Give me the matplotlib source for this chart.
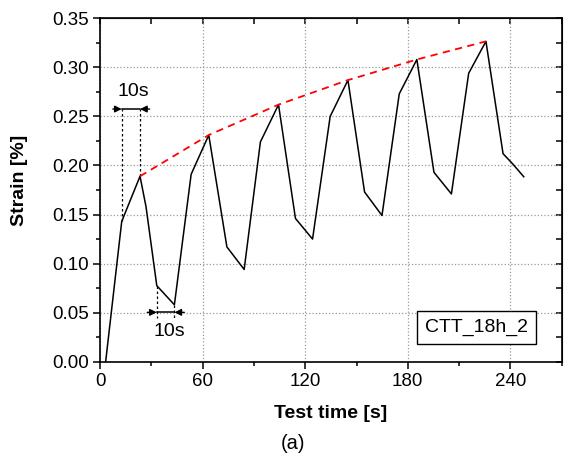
import matplotlib
matplotlib.use('Agg')
import matplotlib.pyplot as plt
from matplotlib.ticker import MultipleLocator

# measured strain curve
timeS = [3.3, 12.7, 23.4, 26.9, 33.2, 43.5, 53.3, 63.6, 74.2, 84.3, 93.8,
         104.4, 114.3, 124.3, 134.6, 145.0, 154.7, 164.9, 175.0, 185.3,
         195.3, 205.5, 215.6, 225.7, 235.7, 241.4, 247.8]
strain = [0.0, 0.143, 0.189, 0.158, 0.0775, 0.058, 0.191, 0.231, 0.117,
          0.094, 0.224, 0.262, 0.146, 0.125, 0.250, 0.287, 0.173, 0.149,
          0.273, 0.308, 0.193, 0.171, 0.294, 0.3265, 0.212, 0.2015, 0.1885]

# envelope through the peaks
peakTime = [23.4, 63.6, 104.4, 145.0, 185.3, 225.7]
peakStrain = [0.189, 0.231, 0.262, 0.287, 0.308, 0.3265]

plt.rcParams['font.family'] = ['Liberation Sans', 'DejaVu Sans']

fig = plt.figure(figsize=(5.66, 4.62), dpi=100)
ax = fig.add_axes([0.1767, 0.2171, 0.8157, 0.7433])

ax.plot(timeS, strain, color='black', linewidth=1.1, zorder=3)
ax.plot(peakTime, peakStrain, color='red', linestyle=(0, (4, 3)),
        linewidth=1.3, zorder=4)

ax.set_xlim(0, 270)
ax.set_ylim(0, 0.35)
ax.xaxis.set_major_locator(MultipleLocator(60))
ax.xaxis.set_minor_locator(MultipleLocator(30))
ax.yaxis.set_major_locator(MultipleLocator(0.05))
ax.yaxis.set_minor_locator(MultipleLocator(0.025))
ax.yaxis.set_major_formatter(plt.FormatStrFormatter('%.2f'))
ax.tick_params(which='major', direction='out', length=5, width=1.1,
               labelsize=13.5, pad=3)
ax.tick_params(which='minor', direction='out', length=3, width=1.1)
for sp in ax.spines.values():
    sp.set_linewidth(1.2)

ax.grid(True, which='major', color='#999999', linestyle=':', linewidth=0.9)

# inward ticks on top and right
top = ax.secondary_xaxis('top')
top.xaxis.set_major_locator(MultipleLocator(60))
top.xaxis.set_minor_locator(MultipleLocator(30))
top.tick_params(which='both', direction='in', length=4, width=1.1,
                labelsize=0, labeltop=False)
right = ax.secondary_yaxis('right')
right.yaxis.set_major_locator(MultipleLocator(0.05))
right.yaxis.set_minor_locator(MultipleLocator(0.025))
right.tick_params(which='both', direction='in', length=4, width=1.1,
                  labelsize=0, labelright=False)

ax.set_xlabel('Test time [s]', fontsize=14, fontweight='bold')
ax.set_ylabel('Strain [%]', fontsize=14, fontweight='bold')
ax.xaxis.set_label_coords(0.499, -0.125)
ax.yaxis.set_label_coords(-0.155, 0.529)
fig.text(0.518, 0.041, '(a)', fontsize=14.5, ha='center', va='center')

# 10 s markers, top
ax.plot([12.7, 12.7], [0.143, 0.2575], color='black', linestyle=(0, (2, 2)),
        linewidth=0.9)
ax.plot([23.4, 23.4], [0.189, 0.2575], color='black', linestyle=(0, (2, 2)),
        linewidth=0.9)
ax.annotate('', xy=(12.7, 0.2575), xytext=(7.5, 0.2575),
            arrowprops=dict(arrowstyle='-|>', color='black', lw=1,
                            mutation_scale=10, shrinkA=0, shrinkB=0))
ax.annotate('', xy=(23.4, 0.2575), xytext=(29.0, 0.2575),
            arrowprops=dict(arrowstyle='-|>', color='black', lw=1,
                            mutation_scale=10, shrinkA=0, shrinkB=0))
ax.plot([12.7, 23.4], [0.2575, 0.2575], color='black', linewidth=1.1)
ax.text(19.5, 0.275, '10s', fontsize=14, ha='center', va='center')

# 10 s markers, bottom
ax.plot([33.2, 33.2], [0.0775, 0.0445], color='black', linestyle=(0, (2, 2)),
        linewidth=0.9)
ax.plot([43.5, 43.5], [0.058, 0.0445], color='black', linestyle=(0, (2, 2)),
        linewidth=0.9)
ax.annotate('', xy=(33.2, 0.0503), xytext=(27.6, 0.0503),
            arrowprops=dict(arrowstyle='-|>', color='black', lw=1,
                            mutation_scale=10, shrinkA=0, shrinkB=0))
ax.annotate('', xy=(43.5, 0.0503), xytext=(49.3, 0.0503),
            arrowprops=dict(arrowstyle='-|>', color='black', lw=1,
                            mutation_scale=10, shrinkA=0, shrinkB=0))
ax.plot([33.2, 43.5], [0.0503, 0.0503], color='black', linewidth=1.1)
ax.text(40.4, 0.0306, '10s', fontsize=14, ha='center', va='center')

ax.text(0.815, 0.1005, 'CTT_18h_2', transform=ax.transAxes, fontsize=14,
        ha='center', va='center',
        bbox=dict(boxstyle='square,pad=0.4', facecolor='white',
                  edgecolor='black', linewidth=1))

fig.savefig('out.png', dpi=100)
